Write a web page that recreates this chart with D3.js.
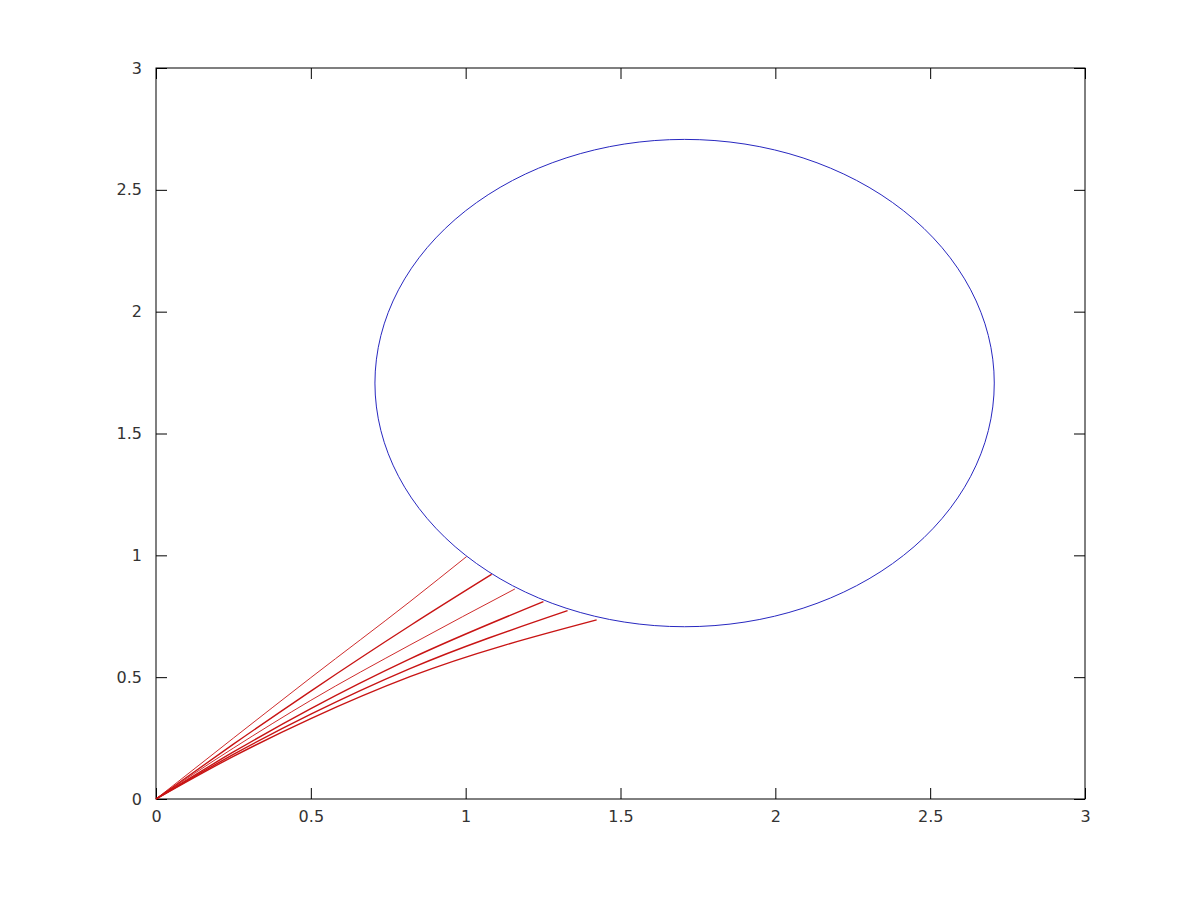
<!DOCTYPE html>
<html>
<head>
<meta charset="utf-8">
<script src="https://cdn.jsdelivr.net/npm/d3@7"></script>
<style>
	body { margin: 0; background: white; }
	svg { display: block; }
</style>
</head>
<body>
<script>
// Values
var xTicks = [0, 0.5, 1, 1.5, 2, 2.5, 3]
var yTicks = [0, 0.5, 1, 1.5, 2, 2.5, 3]

// blue circle: centre and radius in data units
var circleCenter = [1.707, 1.707]
var circleRadius = 1

// red curves, sampled where they could be read
var curveX1 = [0, 0.25, 0.5, 0.82, 1.003]
var curveY1 = [0, 0.25, 0.498, 0.81, 0.995]
var curveX2 = [0, 0.25, 0.5, 0.82, 1.084]
var curveY2 = [0, 0.225, 0.443, 0.711, 0.922]
var curveX3 = [0, 0.25, 0.5, 0.82, 1.159]
var curveY3 = [0, 0.209, 0.405, 0.632, 0.862]
var curveX4 = [0, 0.25, 0.5, 0.82, 1.251]
var curveY4 = [0, 0.193, 0.371, 0.575, 0.81]
var curveX5 = [0, 0.25, 0.5, 0.82, 1.329]
var curveY5 = [0, 0.183, 0.348, 0.535, 0.773]
var curveX6 = [0, 0.25, 0.5, 0.82, 1.423]
var curveY6 = [0, 0.175, 0.33, 0.502, 0.735]

var curves = [
	{xs: curveX1, ys: curveY1, w: 0.9},
	{xs: curveX2, ys: curveY2, w: 1.4},
	{xs: curveX3, ys: curveY3, w: 0.9},
	{xs: curveX4, ys: curveY4, w: 1.4},
	{xs: curveX5, ys: curveY5, w: 1.4},
	{xs: curveX6, ys: curveY6, w: 1.4}
]

var width = 1200, height = 900
// plot box edges in pixels (note: "top" is taken by window.top)
var boxLeft = 156, boxRight = 1085, boxTop = 68, boxBottom = 799
var tickLen = 11

var svg = d3.select("body").append("svg")
	.attr("width", width).attr("height", height)
	.style("background", "white")

var x = d3.scaleLinear().domain([0, 3]).range([boxLeft, boxRight])
var y = d3.scaleLinear().domain([0, 3]).range([boxBottom, boxTop])

// mirrored ticks, all pointing inward
function addAxis(axis, transform) {
	var g = svg.append("g").attr("transform", transform).call(axis)
	g.select(".domain").remove()
	g.selectAll(".tick line").attr("stroke", "#000").attr("stroke-width", 1)
	g.selectAll("text")
		.attr("font-family", "'DejaVu Sans', sans-serif")
		.attr("font-size", 16)
		.attr("fill", "#333")
	return g
}

var fmt = d3.format("")
addAxis(d3.axisBottom(x).tickValues(xTicks).tickSizeInner(-tickLen).tickSizeOuter(0).tickPadding(12).tickFormat(fmt),
	"translate(0," + boxBottom + ")")
addAxis(d3.axisTop(x).tickValues(xTicks).tickSizeInner(-tickLen).tickSizeOuter(0).tickFormat(""),
	"translate(0," + boxTop + ")")
addAxis(d3.axisLeft(y).tickValues(yTicks).tickSizeInner(-tickLen).tickSizeOuter(0).tickPadding(14).tickFormat(fmt),
	"translate(" + boxLeft + ",0)")
addAxis(d3.axisRight(y).tickValues(yTicks).tickSizeInner(-tickLen).tickSizeOuter(0).tickFormat(""),
	"translate(" + boxRight + ",0)")

// frame
svg.append("rect")
	.attr("x", boxLeft).attr("y", boxTop)
	.attr("width", boxRight - boxLeft).attr("height", boxBottom - boxTop)
	.attr("fill", "none").attr("stroke", "#000").attr("stroke-width", 1)

var plot = svg.append("g")

// red curves
var line = d3.line().curve(d3.curveMonotoneX)
	.x(function(d) { return x(d[0]) })
	.y(function(d) { return y(d[1]) })

for (var i = 0; i < curves.length; i++) {
	var c = curves[i]
	var pts = c.xs.map(function(v, j) { return [v, c.ys[j]] })
	plot.append("path")
		.attr("d", line(pts))
		.attr("fill", "none")
		.attr("stroke", "#c81414")
		.attr("stroke-width", c.w)
}

// blue circle (an ellipse on screen since the axes scale differently)
plot.append("ellipse")
	.attr("cx", x(circleCenter[0]))
	.attr("cy", y(circleCenter[1]))
	.attr("rx", x(circleRadius) - x(0))
	.attr("ry", y(0) - y(circleRadius))
	.attr("fill", "none")
	.attr("stroke", "#2828c0")
	.attr("stroke-width", 1)
</script>
</body>
</html>
